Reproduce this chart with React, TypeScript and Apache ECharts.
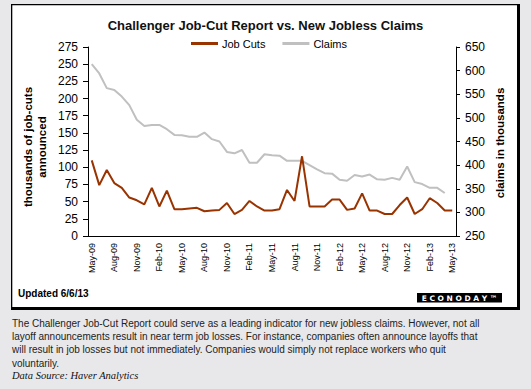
import React, { useEffect, useRef } from 'react';
import * as echarts from 'echarts';

const categories = [
  'May-09', 'Jun-09', 'Jul-09', 'Aug-09', 'Sep-09', 'Oct-09', 'Nov-09', 'Dec-09',
  'Jan-10', 'Feb-10', 'Mar-10', 'Apr-10', 'May-10', 'Jun-10', 'Jul-10', 'Aug-10', 'Sep-10', 'Oct-10', 'Nov-10', 'Dec-10',
  'Jan-11', 'Feb-11', 'Mar-11', 'Apr-11', 'May-11', 'Jun-11', 'Jul-11', 'Aug-11', 'Sep-11', 'Oct-11', 'Nov-11', 'Dec-11',
  'Jan-12', 'Feb-12', 'Mar-12', 'Apr-12', 'May-12', 'Jun-12', 'Jul-12', 'Aug-12', 'Sep-12', 'Oct-12', 'Nov-12', 'Dec-12',
  'Jan-13', 'Feb-13', 'Mar-13', 'Apr-13', 'May-13',
];

const jobCuts = [
  110, 74, 96, 77, 70, 56, 52, 46,
  70, 43, 66, 39, 39, 40, 41, 36, 37, 38, 48, 32,
  38, 51, 43, 37, 37, 39, 67, 51, 116, 43, 43, 43,
  53, 53, 38, 40, 62, 37, 37, 32, 32, 45, 56, 32,
  39, 55, 48, 37, 37,
];

const claims = [
  614, 594, 563, 559, 545, 527, 496, 483,
  485, 485, 476, 464, 463, 460, 460, 469, 455, 450, 428, 425,
  432, 405, 405, 423, 421, 420, 409, 409, 409, 400, 391, 383,
  382, 369, 367, 379, 376, 380, 370, 369, 373, 369, 397, 364,
  360, 352, 352, 341, null,
];

const titleText = 'Challenger Job-Cut Report vs. New Jobless Claims';
const seriesNames = ['Job Cuts', 'Claims'];
const leftAxisName = 'thousands of job-cuts\nannounced';
const rightAxisName = 'claims in thousands';
const updatedText = 'Updated 6/6/13';
const captionLines = [
  'The Challenger Job-Cut Report could serve as a leading indicator for new jobless claims. However, not all',
  'layoff announcements result in near term job losses. For instance, companies often announce layoffs that',
  'will result in job losses but not immediately. Companies would simply not replace workers who quit',
  'voluntarily.',
];
const sourceText = 'Data Source: Haver Analytics';

const SANS = '"Liberation Sans", Arial, sans-serif';

export default function App() {
  const ref = useRef<HTMLDivElement>(null);

  useEffect(() => {
    if (!ref.current) return;
    const chart = echarts.init(ref.current, undefined, { renderer: 'svg' });

    const graphic: any[] = [
      { type: 'rect', z: -10, shape: { x: 11, y: 4, width: 509, height: 306 }, style: { fill: '#000' } },
      { type: 'rect', z: -9, shape: { x: 12.3, y: 5.3, width: 504.7, height: 301.7 }, style: { fill: '#fff' } },
      {
        type: 'text', z: 10, x: 35, y: 147, rotation: Math.PI / 2,
        style: { text: leftAxisName, fill: '#000', fontFamily: SANS, fontSize: 11.5, fontWeight: 'bold', align: 'center', verticalAlign: 'middle', lineHeight: 14 },
      },
      {
        type: 'text', z: 10, x: 500, y: 143, rotation: Math.PI / 2,
        style: { text: rightAxisName, fill: '#000', fontFamily: SANS, fontSize: 11.5, fontWeight: 'bold', align: 'center', verticalAlign: 'middle' },
      },
      {
        type: 'text', z: 10, x: 18, y: 293,
        style: { text: updatedText, fill: '#000', fontFamily: SANS, fontSize: 10, fontWeight: 'bold', align: 'left', verticalAlign: 'middle' },
      },
      { type: 'rect', z: 10, shape: { x: 417, y: 293, width: 85, height: 9.5 }, style: { fill: '#000' } },
      {
        type: 'text', z: 11, x: 459.5, y: 298,
        style: { text: 'E C O N O D A Y \u2122', fill: '#fff', fontFamily: '"DejaVu Sans", sans-serif', fontSize: 7.5, fontWeight: 'bold', align: 'center', verticalAlign: 'middle' },
      },
      ...captionLines.map((t, i) => ({
        type: 'text', z: 10, x: 12, y: 323 + i * 13.4,
        style: { text: t, fill: '#222', fontFamily: SANS, fontSize: 10, align: 'left', verticalAlign: 'middle' },
      })),
      {
        type: 'text', z: 10, x: 12, y: 375,
        style: { text: sourceText, fill: '#111', fontFamily: '"Liberation Serif", "Times New Roman", serif', fontSize: 10.5, fontStyle: 'italic', align: 'left', verticalAlign: 'middle' },
      },
    ];

    chart.setOption({
      animation: false,
      backgroundColor: '#e8e8ea',
      title: {
        text: titleText,
        left: 'center',
        top: 13,
        textStyle: { fontFamily: SANS, fontSize: 13, fontWeight: 'bold', color: '#111', lineHeight: 15 },
      },
      legend: {
        data: seriesNames,
        left: 186,
        top: 33,
        icon: 'rect',
        itemWidth: 27,
        itemHeight: 3,
        itemGap: 17,
        textStyle: { fontFamily: SANS, fontSize: 11, color: '#000', padding: [0, 0, 0, -1] },
      },
      grid: { left: 88, right: 75, top: 47, bottom: 153, containLabel: false },
      xAxis: {
        type: 'category',
        data: categories,
        boundaryGap: true,
        axisLine: { lineStyle: { color: '#000', width: 1 } },
        axisTick: { interval: 2, length: 4, lineStyle: { color: '#000' } },
        axisLabel: { interval: 2, rotate: 90, margin: 7, fontFamily: SANS, fontSize: 9, color: '#000' },
        splitLine: { show: false },
      },
      yAxis: [
        {
          type: 'value', min: 0, max: 275, interval: 25, position: 'left',
          axisLine: { show: true, lineStyle: { color: '#000', width: 1 } },
          axisTick: { show: true, length: 5, lineStyle: { color: '#000' } },
          axisLabel: { margin: 10, fontFamily: SANS, fontSize: 12, color: '#000' },
          splitLine: { show: false },
        },
        {
          type: 'value', min: 250, max: 650, interval: 50, position: 'right',
          axisLine: { show: true, lineStyle: { color: '#000', width: 1 } },
          axisTick: { show: true, length: 4, lineStyle: { color: '#000' } },
          axisLabel: { margin: 9, fontFamily: SANS, fontSize: 12, color: '#000' },
          splitLine: { show: false },
        },
      ],
      series: [
        {
          name: seriesNames[0], type: 'line', yAxisIndex: 0, data: jobCuts,
          showSymbol: false, symbol: 'none', z: 4,
          lineStyle: { color: '#993300', width: 2 }, itemStyle: { color: '#993300' },
        },
        {
          name: seriesNames[1], type: 'line', yAxisIndex: 1, data: claims,
          showSymbol: false, symbol: 'none', z: 3,
          lineStyle: { color: '#c0c0c0', width: 2 }, itemStyle: { color: '#c0c0c0' },
        },
      ],
      graphic,
    });

    return () => chart.dispose();
  }, []);

  return <div ref={ref} style={{ position: 'absolute', left: 0, top: 0, width: 531, height: 389 }} />;
}
